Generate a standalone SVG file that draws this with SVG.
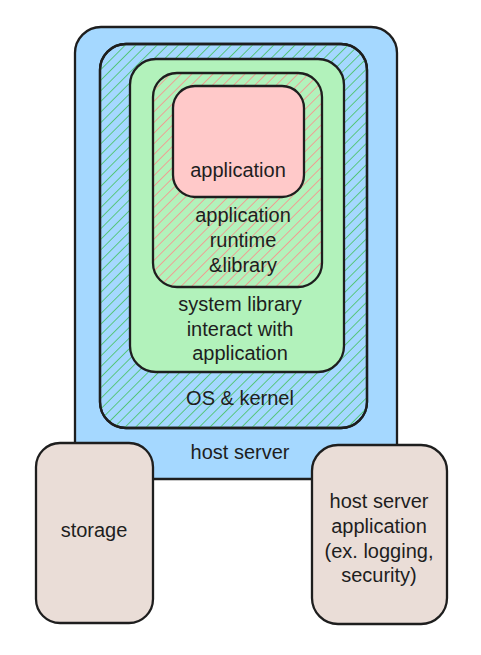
<svg xmlns="http://www.w3.org/2000/svg" width="481" height="655" viewBox="0 0 481 655">
<style>
.b{stroke:#1e1e1e;stroke-width:2.3;stroke-linejoin:round}
.t{font-family:"Liberation Sans",Arial,sans-serif;font-size:20px;fill:#1e1e1e;text-anchor:middle}
</style>
<defs>
<pattern id="hg" width="7.5" height="7.5" patternUnits="userSpaceOnUse" patternTransform="rotate(45)">
<line x1="0" y1="0" x2="0" y2="7.5" stroke="#40c057" stroke-width="1.5"/>
</pattern>
<pattern id="hr" width="7.5" height="7.5" patternUnits="userSpaceOnUse" patternTransform="rotate(45)">
<line x1="0" y1="0" x2="0" y2="7.5" stroke="#ff8787" stroke-width="1.5"/>
</pattern>
</defs>
<rect width="481" height="655" fill="#ffffff"/>
<g id="host-server">
<rect class="b" x="75" y="27" width="322" height="452" rx="26" fill="#a5d8ff"/>
<text class="t" x="240" y="459">host server</text>
</g>
<g id="os-kernel">
<rect class="b" x="100" y="44" width="267" height="384" rx="26" fill="#a5d8ff"/>
<rect x="100" y="44" width="267" height="384" rx="26" fill="url(#hg)"/>
<rect class="b" x="100" y="44" width="267" height="384" rx="26" fill="none"/>
<text class="t" x="240" y="405">OS &amp; kernel</text>
</g>
<g id="system-library">
<rect class="b" x="130" y="59" width="214" height="313" rx="26" fill="#b2f2bb"/>
<text class="t" x="240" y="311">system library</text>
<text class="t" x="240" y="336">interact with</text>
<text class="t" x="240" y="360">application</text>
</g>
<g id="runtime">
<rect x="153" y="73" width="169" height="214" rx="24" fill="url(#hr)"/>
<rect class="b" x="153" y="73" width="169" height="214" rx="24" fill="none"/>
<text class="t" x="243" y="222">application</text>
<text class="t" x="243" y="247">runtime</text>
<text class="t" x="243" y="272">&amp;library</text>
</g>
<g id="application">
<rect class="b" x="173" y="86" width="131" height="111" rx="22" fill="#ffc9c9"/>
<text class="t" x="238" y="177">application</text>
</g>
<g id="storage">
<rect class="b" x="36" y="443" width="117" height="180" rx="24" fill="#eaddd7"/>
<text class="t" x="94" y="537">storage</text>
</g>
<g id="host-server-application">
<rect class="b" x="312" y="445" width="135" height="179" rx="26" fill="#eaddd7"/>
<text class="t" x="379" y="508">host server</text>
<text class="t" x="379" y="533">application</text>
<text class="t" x="379" y="558">(ex. logging,</text>
<text class="t" x="379" y="582">security)</text>
</g>
<g id="connectors"></g>
</svg>
